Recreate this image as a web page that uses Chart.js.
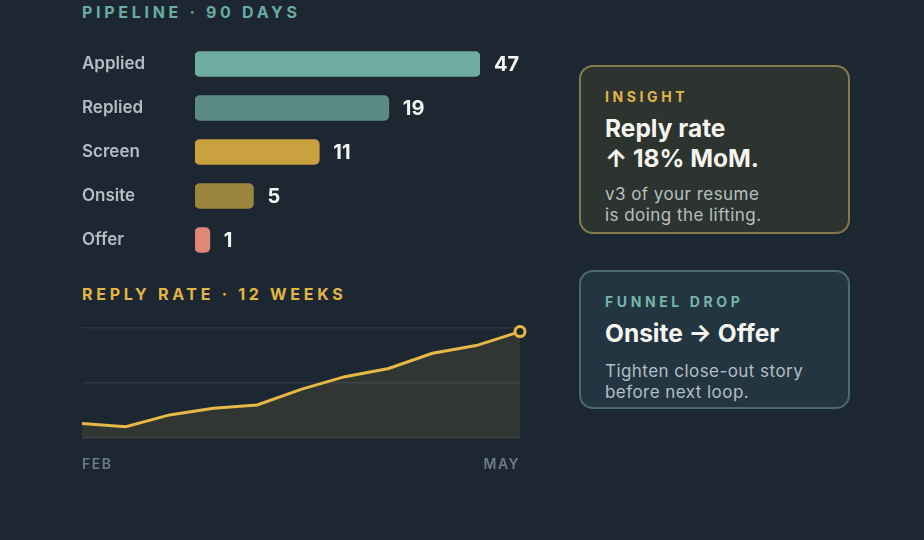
<!DOCTYPE html>
<html>
<head>
<meta charset="utf-8">
<script src="https://cdn.jsdelivr.net/npm/chart.js@4.4.0/dist/chart.umd.min.js"></script>
<style>
  html, body { margin:0; padding:0; background:#1c2732; }
  body { width:924px; height:540px; position:relative; overflow:hidden; font-family:Inter, 'Noto Sans', sans-serif; }
  .title { position:absolute; left:82px; font-size:16px; line-height:16px; font-weight:700; letter-spacing:3.7px; white-space:nowrap; }
  .box { position:absolute; left:0; width:560px; }
  .card { position:absolute; left:579px; width:271px; box-sizing:border-box; border:2px solid; border-radius:14px; padding:23px 0 0 24px; }
  .kicker { font-size:14px; line-height:14px; font-weight:700; letter-spacing:3.6px; }
  .head { font-size:24.5px; line-height:30px; font-weight:700; color:#f6f5f0; margin-top:9px; }
  .sub { font-size:17px; line-height:21px; letter-spacing:0.45px; }
</style>
</head>
<body>
<div class="title" style="top:4px;color:#6aaca1">PIPELINE · 90 DAYS</div>
<div class="box" style="top:0;height:280px"><canvas id="pipeline"></canvas></div>

<div class="title" style="top:286px;color:#e2b442">REPLY RATE · 12 WEEKS</div>
<div class="box" style="top:300px;height:180px"><canvas id="rate"></canvas></div>

<div class="card" style="top:65px;height:169px;background:#2d3430;border-color:#857a4c">
  <div class="kicker" style="color:#e2b545">INSIGHT</div>
  <div class="head">Reply rate<br>↑ 18% MoM.</div>
  <div class="sub" style="margin-top:11px;color:#b8bfc0">v3 of your resume<br>is doing the lifting.</div>
</div>
<div class="card" style="top:270px;height:139px;background:#223540;border-color:#4a6a70">
  <div class="kicker" style="color:#79b3a8">FUNNEL DROP</div>
  <div class="head">Onsite → Offer</div>
  <div class="sub" style="margin-top:13px;color:#b3bfc4">Tighten close-out story<br>before next loop.</div>
</div>

<script>
// pipeline funnel
const stages = ['Applied', 'Replied', 'Screen', 'Onsite', 'Offer'];
const stageCounts = [47, 19, 11, 5, 1];
// bar length as drawn, % of the longest bar
const barShare = [100, 68, 43.6, 20.5, 5.2];
const stageColors = ['#6fada3', '#5b8a84', '#c9a13f', '#9b843b', '#e08877'];

// reply rate, weekly (%)
const weeks = ['W1','W2','W3','W4','W5','W6','W7','W8','W9','W10','W11'];
const replyRate = [5.3, 4.1, 8.4, 10.8, 12.0, 17.7, 22.3, 25.3, 30.8, 33.6, 38.7];
const axisMonths = ['FEB', 'MAY'];

const gold = '#e6b947';

const valueLabels = {
  id: 'valueLabels',
  afterDatasetsDraw(chart) {
    const ctx = chart.ctx;
    ctx.save();
    ctx.font = '700 20px Inter';
    ctx.fillStyle = '#f5f5f2';
    ctx.textBaseline = 'middle';
    chart.getDatasetMeta(0).data.forEach((bar, i) => {
      ctx.fillText(stageCounts[i], bar.x + 14, bar.y + 1);
    });
    ctx.restore();
  }
};

new Chart(document.getElementById('pipeline'), {
  type: 'bar',
  data: {
    labels: stages,
    datasets: [{
      data: barShare,
      backgroundColor: stageColors,
      borderRadius: 5,
      borderSkipped: false,
      barThickness: 25
    }]
  },
  options: {
    indexAxis: 'y',
    responsive: true,
    maintainAspectRatio: false,
    animation: false,
    layout: { padding: { left: 82, right: 80, top: 42, bottom: 18 } },
    plugins: { legend: { display: false }, tooltip: { enabled: false } },
    scales: {
      x: { display: false, min: 0, max: 100 },
      y: {
        grid: { display: false },
        border: { display: false },
        ticks: { crossAlign: 'far', padding: 0, color: '#b4bdc5', font: { family: 'Inter', size: 17, weight: '600' } },
        afterFit: s => { s.width = 113; }
      }
    }
  },
  plugins: [valueLabels]
});

const spacedTicks = {
  id: 'spacedTicks',
  beforeDraw(chart) { chart.ctx.letterSpacing = '1.5px'; }
};

new Chart(document.getElementById('rate'), {
  type: 'line',
  data: {
    labels: weeks,
    datasets: [{
      data: replyRate,
      borderColor: gold,
      borderWidth: 3,
      tension: 0,
      fill: 'start',
      backgroundColor: 'rgba(232,187,72,0.1)',
      pointRadius: c => c.dataIndex === replyRate.length - 1 ? 5 : 0,
      pointBorderWidth: 3,
      pointBorderColor: gold,
      pointBackgroundColor: '#1c2732',
      clip: false
    }]
  },
  options: {
    responsive: true,
    maintainAspectRatio: false,
    animation: false,
    layout: { padding: { left: 82, right: 40, top: 28, bottom: 0 } },
    plugins: { legend: { display: false }, tooltip: { enabled: false } },
    scales: {
      x: {
        grid: { display: false },
        border: { display: false },
        ticks: {
          autoSkip: false, maxRotation: 0, align: 'inner', padding: 10,
          color: '#6c7a86', font: { family: 'Inter', size: 14, weight: '600' },
          callback: (v, i) => i === 0 ? axisMonths[0] : (i === weeks.length - 1 ? axisMonths[1] : '')
        },
        afterFit: s => { s.height = 42; }
      },
      y: {
        min: 0, max: 40,
        ticks: { display: false, stepSize: 20 },
        grid: { color: '#2b3742', lineWidth: 1.5, drawTicks: false },
        border: { display: false }
      }
    }
  },
  plugins: [spacedTicks]
});
</script>
</body>
</html>
